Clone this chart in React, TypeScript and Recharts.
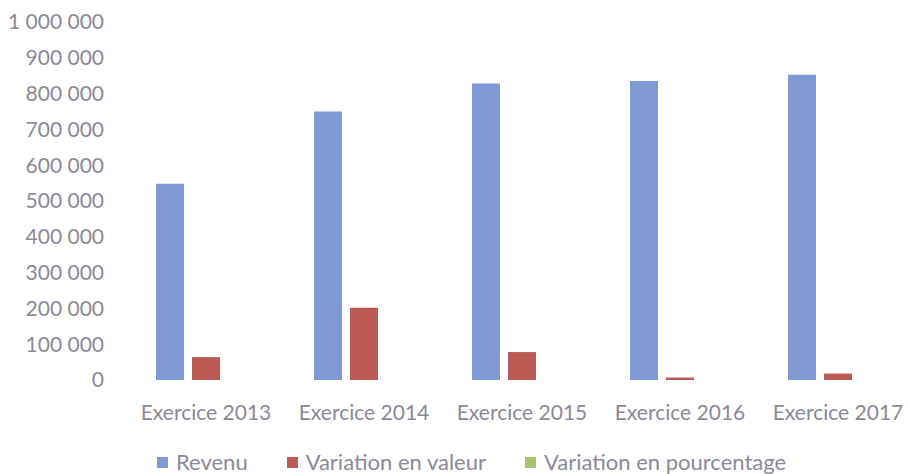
import React from 'react';
import { BarChart, Bar, XAxis, YAxis, Legend } from 'recharts';

const categories = ['Exercice 2013', 'Exercice 2014', 'Exercice 2015', 'Exercice 2016', 'Exercice 2017'];
const revenu = [548000, 750000, 828000, 835000, 853000];
const variationValeur = [64000, 202000, 78000, 7000, 18000];
const variationPourcentage = [13.2, 36.9, 10.4, 0.8, 2.2];
const yTicks = [0, 100000, 200000, 300000, 400000, 500000, 600000, 700000, 800000, 900000, 1000000];

const SERIES = [
  { key: 'revenu', name: 'Revenu', color: '#7f9ad4' },
  { key: 'valeur', name: 'Variation en valeur', color: '#bc5a56' },
  { key: 'pourcentage', name: 'Variation en pourcentage', color: '#a7c46c' },
];

const TEXT = '#8c8997';
const FONT = 'Lato, "Open Sans", sans-serif';

const data = categories.map((c, i) => ({
  name: c,
  revenu: revenu[i],
  valeur: variationValeur[i],
  pourcentage: variationPourcentage[i],
}));

// séparateur de milliers en espace
const fmt = (v: number) => String(v).replace(/\B(?=(\d{3})+(?!\d))/g, ' ');

const LegendContent = () => (
  <div style={{ display: 'flex', paddingLeft: 157, fontFamily: FONT, fontSize: 22, color: TEXT, lineHeight: '28px' }}>
    {SERIES.map((s) => (
      <div key={s.key} style={{ display: 'flex', alignItems: 'center', marginRight: 39 }}>
        <span style={{ width: 11, height: 11, background: s.color, display: 'inline-block', marginRight: 8 }} />
        <span>{s.name}</span>
      </div>
    ))}
  </div>
);

export default function App() {
  return (
    <div style={{ position: 'absolute', left: 0, top: 0, width: 909, height: 474, background: '#fff' }}>
      <BarChart
        width={909}
        height={474}
        data={data}
        margin={{ top: 22, right: -8, left: 0, bottom: 26 }}
        barGap={8}
        barSize={28}
      >
        <XAxis
          dataKey="name"
          axisLine={false}
          tickLine={false}
          tickMargin={19}
          height={40}
          tick={{ fill: TEXT, fontSize: 21, fontFamily: FONT }}
          interval={0}
        />
        <YAxis
          domain={[0, 1000000]}
          ticks={yTicks}
          tickFormatter={fmt}
          axisLine={false}
          tickLine={false}
          tickMargin={17}
          width={127}
          tick={{ fill: TEXT, fontSize: 21, fontFamily: FONT }}
          interval={0}
        />
        <Legend
          verticalAlign="bottom"
          content={<LegendContent />}
          wrapperStyle={{ top: 448, bottom: 'auto', left: 0, width: 909, height: 28 }}
        />
        {SERIES.map((s) => (
          <Bar key={s.key} dataKey={s.key} name={s.name} fill={s.color} isAnimationActive={false} />
        ))}
      </BarChart>
    </div>
  );
}
